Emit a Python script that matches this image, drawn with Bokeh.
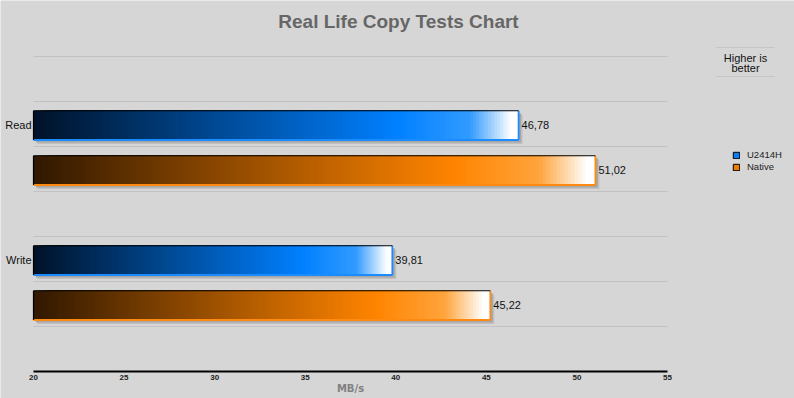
from bokeh.plotting import figure
from bokeh.models import (Range1d, Label, Legend, LegendItem, Arrow,
                          FixedTicker, ColumnDataSource)
from bokeh.core.properties import value
from bokeh.embed import file_html
from bokeh.resources import INLINE

# ---- data ----
categories = ["Read", "Write"]
series_names = ["U2414H", "Native"]
u2414h = [46.78, 39.81]
native = [51.02, 45.22]
x_ticks = [20, 25, 30, 35, 40, 45, 50, 55]
grid_levels = [1, 2, 3, 4, 5, 6, 7]
title_text = "Real Life Copy Tests Chart"
unit_text = "MB/s"
note_lines = ["Higher is", "better"]

# ---- style / geometry ----
W, H = 794, 398
BG = "#d6d6d6"
FONT = "Liberation Sans"
X0, X1 = 20, 55          # value axis extent
PX_X = 634 / (X1 - X0)   # pixels per unit (x)
PX_Y = 45.0              # pixels per slot (y)
FRAME_L, FRAME_T = 33, 56
XMIN = X0 - FRAME_L / PX_X
XMAX = XMIN + W / PX_X
YMAX = 7 + FRAME_T / PX_Y
YMIN = YMAX - H / PX_Y
BAR_H = 0.65
Y_SHIFT = -0.03

BLUE_STOPS = [(0.0, (0, 18, 40)), (0.75, (0, 128, 255)), (0.9, (50, 155, 255)),
              (0.985, (255, 255, 255)), (1.0, (255, 255, 255))]
ORANGE_STOPS = [(0.0, (48, 24, 0)), (0.75, (255, 132, 0)), (0.9, (255, 164, 60)),
                (0.985, (255, 255, 255)), (1.0, (255, 255, 255))]
EDGE = {"U2414H": "#1a8cff", "Native": "#ff8a12"}


def sx(px):
    return XMIN + px / PX_X


def sy(py):
    return YMAX - py / PX_Y


def lerp_color(stops, t):
    for (t0, c0), (t1, c1) in zip(stops[:-1], stops[1:]):
        if t <= t1:
            f = 0 if t1 == t0 else (t - t0) / (t1 - t0)
            c = [round(a + (b - a) * f) for a, b in zip(c0, c1)]
            return "#%02x%02x%02x" % tuple(c)
    return "#%02x%02x%02x" % stops[-1][1]


p = figure(width=W, height=H, output_backend="svg", toolbar_location=None,
           x_range=Range1d(XMIN, XMAX), y_range=Range1d(YMIN, YMAX),
           min_border=0, min_border_left=0, min_border_right=0,
           min_border_top=0, min_border_bottom=0,
           y_axis_location=None,
           background_fill_color=BG, border_fill_color=BG,
           outline_line_color=None)
p.grid.visible = False

# x axis placed at value-axis baseline
p.xaxis.fixed_location = 0
p.xaxis.bounds = (X0, X1)
p.xaxis.ticker = FixedTicker(ticks=x_ticks)
p.xaxis.axis_line_color = "black"
p.xaxis.axis_line_width = 2
p.xaxis.major_tick_line_color = None
p.xaxis.minor_tick_line_color = None
p.xaxis.major_tick_out = 0
p.xaxis.major_tick_in = 0
p.xaxis.minor_tick_out = 0
p.xaxis.minor_tick_in = 0
p.xaxis.major_label_standoff = 3
p.xaxis.major_label_text_font = FONT
p.xaxis.major_label_text_font_style = "bold"
p.xaxis.major_label_text_font_size = "8px"
p.xaxis.major_label_text_color = "#222222"

# horizontal grid lines over the plotting region
p.segment(x0=[X0] * len(grid_levels), x1=[X1] * len(grid_levels),
          y0=grid_levels, y1=grid_levels, line_color="#c2c2c2", line_width=1)

# bars
sh1 = dict(left=[], right=[], top=[], bottom=[])
sh2 = dict(left=[], right=[], top=[], bottom=[])
grad = dict(left=[], right=[], top=[], bottom=[], color=[])
seg_dark = dict(x0=[], y0=[], x1=[], y1=[])
seg_col = dict(x0=[], y0=[], x1=[], y1=[], color=[])
txt = dict(x=[], y=[], text=[])
cat_y = []

N = 160
for gi, cat in enumerate(categories):
    top_slot = 6 - 3 * gi
    for si, (name, vals, stops) in enumerate([("U2414H", u2414h, BLUE_STOPS),
                                              ("Native", native, ORANGE_STOPS)]):
        v = vals[gi]
        yc = top_slot - 0.5 - si + Y_SHIFT
        if si == 0:
            cat_y.append(yc)
        top, bot = yc + BAR_H / 2, yc - BAR_H / 2
        for d, store in ((4.0, sh1), (2.5, sh2)):
            store["left"].append(X0 + d / PX_X)
            store["right"].append(v + d / PX_X)
            store["top"].append(top - d / PX_Y)
            store["bottom"].append(bot - d / PX_Y)
        for j in range(N):
            grad["left"].append(X0 + (v - X0) * j / N)
            grad["right"].append(v)
            grad["top"].append(top)
            grad["bottom"].append(bot)
            grad["color"].append(lerp_color(stops, (j + 0.5) / N))
        seg_dark["x0"] += [X0, X0]
        seg_dark["y0"] += [top, bot]
        seg_dark["x1"] += [v, X0]
        seg_dark["y1"] += [top, top]
        seg_col["x0"] += [X0, v]
        seg_col["y0"] += [bot, bot]
        seg_col["x1"] += [v, v]
        seg_col["y1"] += [bot, top]
        seg_col["color"] += [EDGE[name], EDGE[name]]
        txt["x"].append(v)
        txt["y"].append(yc)
        txt["text"].append(f"{v:.2f}".replace(".", ","))

p.quad(source=ColumnDataSource(sh1), left="left", right="right", top="top",
       bottom="bottom", fill_color="#c0c0c0", line_color=None)
p.quad(source=ColumnDataSource(sh2), left="left", right="right", top="top",
       bottom="bottom", fill_color="#a6a6a6", line_color=None)
p.quad(source=ColumnDataSource(grad), left="left", right="right", top="top",
       bottom="bottom", fill_color="color", line_color=None)
p.segment(source=ColumnDataSource(seg_col), x0="x0", y0="y0", x1="x1", y1="y1",
          line_color="color", line_width=1.8)
p.segment(source=ColumnDataSource(seg_dark), x0="x0", y0="y0", x1="x1", y1="y1",
          line_color="#000000", line_width=1.2)

p.text(source=ColumnDataSource(txt), x="x", y="y", text="text", x_offset=3,
       text_baseline="middle", text_align="left", text_font=value(FONT),
       text_font_size="11px", text_color="#111111")

# category labels
for cat, yc in zip(categories, cat_y):
    p.add_layout(Label(x=X0, y=yc, x_offset=-2, text=cat, text_align="right",
                       text_baseline="middle", text_font=FONT,
                       text_font_size="11px", text_color="#111111"))

# title
p.add_layout(Label(x=sx(398), y=sy(21), text=title_text,
                   text_align="center", text_baseline="middle", text_font=FONT,
                   text_font_style="bold", text_font_size="19px", text_color="#666666"))

# unit label
p.add_layout(Label(x=(X0 + X1) / 2, y=sy(387.5), text=unit_text,
                   text_align="center", text_baseline="middle", text_font="DejaVu Sans",
                   text_font_style="bold", text_font_size="10px", text_color="#808080"))

# "Higher is better" note
nx0, nx1 = sx(716), sx(774)
for py in (47, 76):
    p.add_layout(Arrow(x_start=nx0, y_start=sy(py), x_end=nx1, y_end=sy(py), end=None,
                       line_color="#c6c6c6", line_width=1))
for line, py in zip(note_lines, (57, 67.5)):
    p.add_layout(Label(x=(nx0 + nx1) / 2, y=sy(py), text=line,
                       text_align="center", text_baseline="middle", text_font=FONT,
                       text_font_size="11px", text_color="#111111"))

# legend with off-range dummy renderers
r_blue = p.quad(left=[0], right=[1], top=[0], bottom=[-1], fill_color="#0a7ef0",
                line_color="#000000", line_width=1)
r_orange = p.quad(left=[0], right=[1], top=[0], bottom=[-1], fill_color="#f07d00",
                  line_color="#000000", line_width=1)
legend = Legend(items=[LegendItem(label=series_names[0], renderers=[r_blue]),
                       LegendItem(label=series_names[1], renderers=[r_orange])],
                location=(732, H - 172.5), orientation="vertical",
                glyph_width=8, glyph_height=8, label_height=12, label_width=10,
                label_standoff=7, spacing=0, padding=0, margin=0,
                border_line_color=None, background_fill_alpha=0,
                label_text_font=FONT, label_text_font_size="9.5px",
                label_text_color="#222222")
p.add_layout(legend, "center")

open("out.html", "w").write(file_html(p, INLINE))
